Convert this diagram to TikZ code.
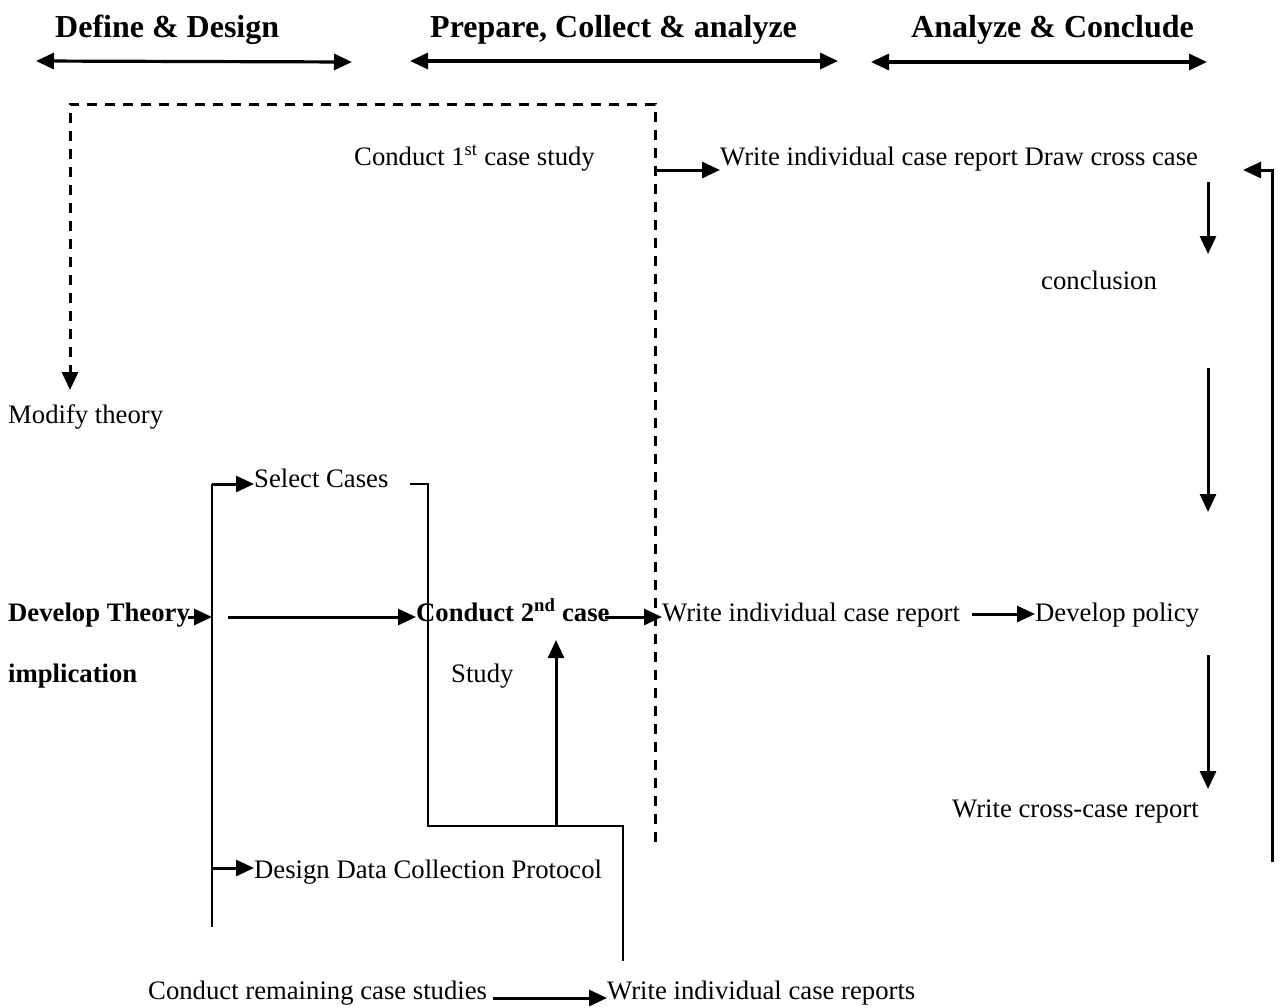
\documentclass[tikz,border=0pt]{standalone}
\usepackage{fontspec}
\setmainfont{Liberation Serif}
\usetikzlibrary{arrows.meta}
\begin{document}
\begin{tikzpicture}[x=1pt,y=-1pt,
  txt/.style={anchor=base west,inner sep=0pt,font=\fontsize{26.7}{32}\selectfont},
  btxt/.style={txt,font=\fontsize{26.7}{32}\selectfont\bfseries},
  head/.style={anchor=base west,inner sep=0pt,font=\fontsize{32}{38}\selectfont\bfseries},
  span/.style={line width=3.2pt,{Triangle[length=18pt,width=16pt]}-{Triangle[length=18pt,width=16pt]}},
  flow/.style={line width=3pt,-{Triangle[length=18pt,width=16pt]}},
  link/.style={line width=2.5pt},
  loop/.style={line width=3pt,dash pattern=on 10pt off 8pt}]
\useasboundingbox (0,0) rectangle (1281,1007);

% phase headers
\node[head] (h1) at (55,37) {Define \& Design};
\node[head] (h2) at (430,37) {Prepare, Collect \& analyze};
\node[head] (h3) at (911,37) {Analyze \& Conclude};
\coordinate (h1a) at (36,61);  \coordinate (h1b) at (352,62);
\coordinate (h2a) at (410,61); \coordinate (h2b) at (838,61);
\coordinate (h3a) at (871,62); \coordinate (h3b) at (1207,62);
\draw[span] (h1a) -- (h1b);
\draw[span] (h2a) -- (h2b);
\draw[span] (h3a) -- (h3b);

% text blocks
\node[txt] (c1) at (354,165) {Conduct 1\textsuperscript{st} case study};
\node[txt] (w1) at (720,165) {Write individual case report Draw cross case};
\node[txt] (concl) at (1041,289) {conclusion};
\node[txt] (mod) at (8,423) {Modify theory};
\node[txt] (sel) at (254,487) {Select Cases};
\node[btxt] (dev) at (8,621) {Develop Theory};
\node[btxt] (impl) at (8,682) {implication};
\node[btxt] (c2) at (416,621) {Conduct 2\textsuperscript{nd} case};
\node[txt] (study) at (451,682) {Study};
\node[txt] (w2) at (662,621) {Write individual case report};
\node[txt] (pol) at (1035,621) {Develop policy};
\node[txt] (cross) at (952,817) {Write cross-case report};
\node[txt] (ddc) at (254,878) {Design Data Collection Protocol};
\node[txt] (rem) at (148,999) {Conduct remaining case studies};
\node[txt] (wr) at (607,999) {Write individual case reports};

% dashed feedback loop
\coordinate (dA) at (70,104);
\coordinate (dB) at (655,104);
\coordinate (dC) at (655,842);
\coordinate (dM) at (70,390);
\draw[loop] (dC) -- (dB) -- (dA) -- (70,372);
\draw[flow] (70,368) -- (dM);

% first case study to report
\coordinate (f1) at (655,170);
\draw[flow] (f1) -- (w1.west |- f1);

% return line on the right
\coordinate (r1) at (1272,862);
\coordinate (r2) at (1272,170);
\coordinate (r3) at (1243,170);
\draw[flow] (r1) -- (r2) -- (r3);

% right-hand column arrows
\coordinate (a1) at (1208,182); \coordinate (a2) at (1208,254);
\coordinate (a3) at (1208,368); \coordinate (a4) at (1208,512);
\coordinate (a5) at (1208,655); \coordinate (a6) at (1208,789);
\draw[flow] (a1) -- (a2);
\draw[flow] (a3) -- (a4);
\draw[flow] (a5) -- (a6);

% left bracket of design steps
\coordinate (b1) at (212,484);
\coordinate (b2) at (212,927);
\coordinate (b3) at (212,868);
\coordinate (b4) at (212,617);
\draw[link] (b1) -- (b2);
\draw[flow] (b1) -- (sel.west |- b1);
\draw[flow] (b3) -- (ddc.west |- b3);
\coordinate (dv) at (188,617);
\draw[flow] (dv) -- (b4);
\coordinate (m1) at (228,617);
\draw[flow] (m1) -- (c2.west |- m1);

% select cases path down to the remaining studies
\coordinate (s1) at (410,484);
\coordinate (s2) at (428,484);
\coordinate (s3) at (428,826);
\coordinate (s4) at (623,826);
\coordinate (s5) at (623,961);
\draw[link] (s1) -- (s2) -- (s3) -- (s4) -- (s5);
\coordinate (u1) at (556,826);
\coordinate (u2) at (556,640);
\draw[flow] (u1) -- (u2);

% second case study row
\coordinate (k1) at (605,617);
\draw[flow] (k1) -- (w2.west |- k1);
\coordinate (k2) at (972,614);
\draw[flow] (k2) -- (pol.west |- k2);

% remaining studies to reports
\coordinate (q1) at (493,998);
\draw[flow] (q1) -- (wr.west |- q1);
\end{tikzpicture}
\end{document}
